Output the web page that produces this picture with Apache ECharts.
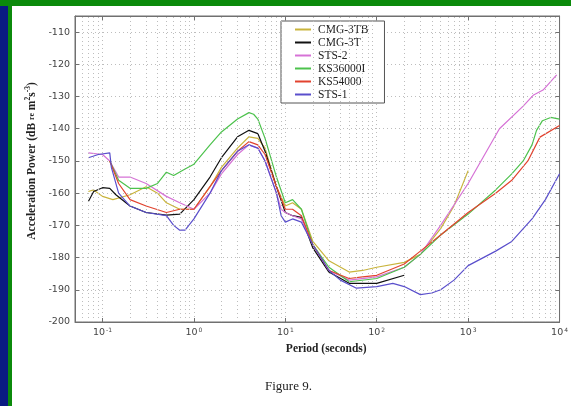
<!DOCTYPE html>
<html>
<head>
<meta charset="utf-8">
<script src="https://cdn.jsdelivr.net/npm/echarts@6/dist/echarts.min.js"></script>
<style>
  html, body { margin: 0; padding: 0; background: #fff; }
  #chart { width: 571px; height: 406px; }
</style>
</head>
<body>
<div id="chart"></div>
<script>
// Seismometer self-noise: acceleration power vs period (log axis)
const seriesNames = ['CMG-3TB', 'CMG-3T', 'STS-2', 'KS36000I', 'KS54000', 'STS-1'];

const cmg3tbPeriod = [0.07, 0.08, 0.1, 0.13, 0.2, 0.3, 0.4, 0.5, 0.7, 1, 1.5, 2, 3, 4, 5, 6, 8, 10, 12, 15, 20, 30, 50, 70, 100, 200, 300, 500, 700, 1000];
const cmg3tbDb     = [-159.5, -159, -161, -162, -160.5, -158, -160, -163, -165, -165, -158, -152, -146, -142.5, -143, -146, -158, -164, -163, -165, -175, -181, -184.5, -184, -183, -181.5, -179, -171, -164, -153];

const cmg3tPeriod = [0.07, 0.08, 0.1, 0.12, 0.14, 0.2, 0.3, 0.5, 0.7, 1, 1.5, 2, 3, 4, 5, 6, 8, 10, 12, 15, 20, 30, 50, 100, 200];
const cmg3tDb     = [-162.6, -159.5, -158.3, -158.5, -160.5, -164, -166, -166.8, -166.5, -162, -155, -149, -142.5, -140.5, -141.5, -147, -158, -166, -167, -167.5, -177, -184.5, -188, -188, -185.5];

const sts2Period = [0.07, 0.1, 0.12, 0.15, 0.2, 0.3, 0.5, 0.7, 1, 1.5, 2, 3, 4, 5, 6, 8, 9, 10, 12, 15, 20, 30, 50, 100, 200, 300, 500, 1000, 2200, 4000, 5200, 6600, 9300];
const sts2Db     = [-147.5, -148, -150, -155, -155, -157, -161, -163, -165, -160, -154, -148, -145, -146, -150, -160, -165, -166, -167, -168, -176, -184, -187, -186, -183, -179, -170, -157, -140, -133, -129.5, -128, -123.3];

const ks36000iPeriod = [0.12, 0.15, 0.2, 0.3, 0.4, 0.5, 0.6, 0.8, 1, 1.5, 2, 3, 4, 4.5, 5, 6, 8, 10, 12, 15, 20, 30, 50, 100, 200, 300, 500, 1000, 2000, 3000, 4000, 5000, 5600, 6500, 8000, 10000];
const ks36000iDb     = [-150, -156, -158.5, -158.5, -157, -153.5, -154.5, -152.5, -151, -145, -141, -137, -135, -135.5, -137, -143, -155, -163, -162, -165, -176, -183, -187.5, -186.5, -183, -179, -173, -166.5, -159, -154, -150, -145, -140.5, -137.5, -136.5, -137];

const ks54000Period = [0.12, 0.15, 0.2, 0.3, 0.5, 0.7, 1, 1.5, 2, 3, 4, 5, 6, 8, 10, 12, 15, 20, 30, 50, 70, 100, 200, 300, 500, 1000, 2000, 3000, 4500, 6100, 10000];
const ks54000Db     = [-150, -157, -162, -164, -166, -165, -165, -158, -153, -147, -144, -145, -148, -158, -165, -165, -167, -176, -184, -186.5, -186, -185.5, -182, -178, -173, -166, -160, -156, -150, -142.6, -139];

const sts1Period = [0.07, 0.09, 0.12, 0.125, 0.15, 0.2, 0.3, 0.5, 0.6, 0.7, 0.8, 1, 1.5, 2, 3, 4, 5, 6, 8, 9, 10, 12, 15, 20, 30, 40, 60, 100, 150, 200, 300, 400, 500, 700, 1000, 2000, 3000, 5000, 7000, 10000];
const sts1Db     = [-149, -148, -147.5, -152, -160, -164, -166, -167, -170, -171.5, -171.5, -168, -160, -153, -147, -145, -146, -150, -160, -167, -169, -168, -169, -176, -184, -187, -189.5, -189, -188, -189, -191.5, -191, -190, -187, -182.5, -178, -175, -168, -162, -154];

const seriesColors = ['#c9b43c', '#111111', '#d672d6', '#4cc24c', '#e2432f', '#5a4fcc'];
const seriesPeriods = [cmg3tbPeriod, cmg3tPeriod, sts2Period, ks36000iPeriod, ks54000Period, sts1Period];
const seriesValues  = [cmg3tbDb, cmg3tDb, sts2Db, ks36000iDb, ks54000Db, sts1Db];

// Minor log grid lines (2..9 x each decade) inside the period range
const periodMin = 0.05, periodMax = 10000;
const minorGrid = [];
for (let d = -2; d <= 3; d++) {
  for (let k = 2; k <= 9; k++) {
    const v = k * Math.pow(10, d);
    if (v > periodMin && v < periodMax) minorGrid.push(+v.toPrecision(3));
  }
}

const gridDots = { type: [1, 3], color: '#bdbdbd', width: 1 };
const axisGrey = '#707070';

function powerLabel(v) {
  const e = Math.log10(v);
  const r = Math.round(e);
  if (Math.abs(e - r) > 1e-6) return '';
  return '{b|10}{e|' + r + '}';
}

const chart = echarts.init(document.getElementById('chart'), null, { renderer: 'canvas' });

const series = seriesNames.map((name, i) => ({
  name: name,
  type: 'line',
  xAxisIndex: 0,
  yAxisIndex: 0,
  showSymbol: false,
  symbol: 'none',
  z: 3,
  lineStyle: { color: seriesColors[i], width: 1.2 },
  itemStyle: { color: seriesColors[i] },
  data: seriesPeriods[i].map((p, j) => [p, seriesValues[i][j]])
}));

series.unshift({
  name: 'minor-grid',
  type: 'line',
  data: [],
  silent: true,
  z: 1,
  markLine: {
    silent: true,
    symbol: 'none',
    label: { show: false },
    lineStyle: gridDots,
    animation: false,
    data: minorGrid.map(v => ({ xAxis: v }))
  }
});

chart.setOption({
  animation: false,
  backgroundColor: '#ffffff',
  grid: {
    left: 75, right: 8, top: 16, bottom: 84,
    show: true, borderColor: axisGrey, borderWidth: 1, backgroundColor: 'transparent'
  },
  legend: {
    data: seriesNames,
    orient: 'vertical',
    left: 281,
    top: 21,
    padding: [2, 16, 2, 14],
    itemGap: 0,
    itemWidth: 16,
    itemHeight: 2,
    icon: 'rect',
    backgroundColor: '#ffffff',
    borderColor: '#555555',
    borderWidth: 1,
    textStyle: { fontFamily: 'Liberation Serif', fontSize: 11.5, color: '#222', lineHeight: 13, padding: [0, 0, 0, 2] }
  },
  xAxis: [{
    type: 'log', logBase: 10, min: periodMin, max: periodMax, splitNumber: 5,
    position: 'bottom',
    name: 'Period (seconds)', nameLocation: 'middle', nameGap: 20,
    nameTextStyle: { fontFamily: 'Liberation Serif', fontWeight: 'bold', fontSize: 11.5, color: '#222', padding: [0, 0, 0, 18] },
    axisLine: { show: true, lineStyle: { color: axisGrey } },
    axisTick: { show: true, inside: true, length: 4, lineStyle: { color: axisGrey } },
    axisLabel: {
      margin: 5, formatter: powerLabel, showMinLabel: false,
      rich: {
        b: { fontFamily: 'DejaVu Sans', fontSize: 9.5, color: '#444', lineHeight: 12 },
        e: { fontFamily: 'DejaVu Sans', fontSize: 6, color: '#444', lineHeight: 7, verticalAlign: 'top', padding: [0, 0, 0, 1] }
      }
    },
    splitLine: { show: true, lineStyle: gridDots }
  }, {
    type: 'log', logBase: 10, min: periodMin, max: periodMax, splitNumber: 5,
    position: 'top',
    axisLine: { show: true, lineStyle: { color: axisGrey } },
    axisTick: { show: true, inside: true, length: 4, lineStyle: { color: axisGrey } },
    axisLabel: { show: false },
    splitLine: { show: false }
  }],
  yAxis: [{
    type: 'value', min: -200, max: -105, interval: 10,
    position: 'left',
    name: '{a|Acceleration Power (dB }{r|re}{a| m}{s|2}{a|s}{s|-3}{a|)}',
    nameLocation: 'middle', nameGap: 32, nameRotate: 90,
    nameTextStyle: {
      padding: [0, 0, 0, 16],
      rich: {
        a: { fontFamily: 'Liberation Serif', fontWeight: 'bold', fontSize: 11.5, color: '#222', lineHeight: 14 },
        r: { fontFamily: 'Liberation Serif', fontWeight: 'bold', fontSize: 8, color: '#222', lineHeight: 14 },
        s: { fontFamily: 'Liberation Serif', fontWeight: 'bold', fontSize: 7.5, color: '#222', lineHeight: 8, verticalAlign: 'top' }
      }
    },
    axisLine: { show: true, lineStyle: { color: axisGrey } },
    axisTick: { show: true, inside: true, length: 4, lineStyle: { color: axisGrey } },
    axisLabel: {
      margin: 5, fontFamily: 'DejaVu Sans', fontSize: 9.5, color: '#444',
      formatter: v => (v % 10 === 0 ? String(v) : '')
    },
    splitLine: { show: true, lineStyle: gridDots }
  }, {
    type: 'value', min: -200, max: -105, interval: 10,
    position: 'right',
    axisLine: { show: true, lineStyle: { color: axisGrey } },
    axisTick: { show: true, inside: true, length: 4, lineStyle: { color: axisGrey } },
    axisLabel: { show: false },
    splitLine: { show: false }
  }],
  graphic: [
    { type: 'rect', left: 0, top: 0, shape: { width: 571, height: 6 }, style: { fill: '#0b8a0b' }, z: 10 },
    { type: 'rect', left: 0, top: 6, shape: { width: 8, height: 400 }, style: { fill: '#0a1a82' }, z: 10 },
    { type: 'rect', left: 8, top: 6, shape: { width: 4, height: 400 }, style: { fill: '#0b8a0b' }, z: 10 },
    {
      type: 'text', left: 265, top: 380, z: 10,
      style: { text: 'Figure 9.', fontFamily: 'Liberation Serif', fontSize: 13, fill: '#222' }
    }
  ],
  series: series
});
</script>
</body>
</html>
